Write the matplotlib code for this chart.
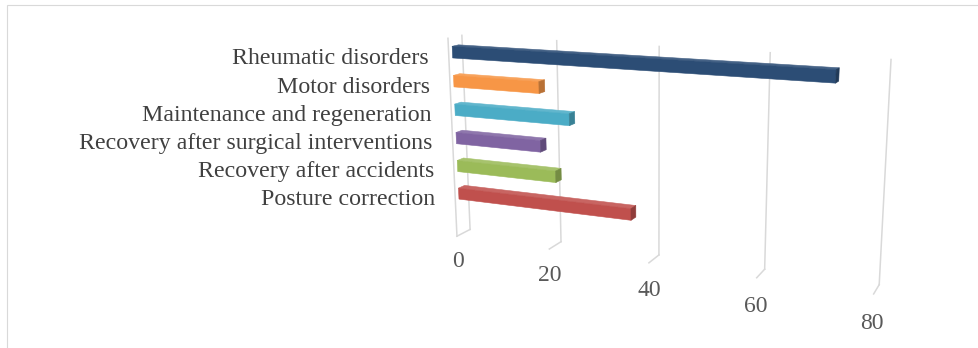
import numpy as np
import matplotlib
matplotlib.use("Agg")
import matplotlib.pyplot as plt
from matplotlib.colors import to_rgba
from matplotlib.patches import Rectangle

# Categorías de abajo hacia arriba (la primera posición del eje queda vacía)
categorias = [
    "Posture correction",
    "Recovery after accidents",
    "Recovery after surgical interventions",
    "Maintenance and regeneration",
    "Motor disorders",
    "Rheumatic disorders",
]
valores = [36, 21, 18, 24, 18, 72]
colores = ["#c0504d", "#9bbb59", "#8064a2", "#4bacc6", "#f79646", "#2c4d75"]
ticks_valor = [0, 20, 40, 60, 80]

GRIS_REJILLA = "#d9d9d9"
FUENTE = "Liberation Serif"


def aclarar(color, factor=0.2):
    """Mezcla un color RGBA con blanco"""
    r, g, b, a = color
    return (r + (1 - r) * factor, g + (1 - g) * factor, b + (1 - b) * factor, a)


def oscurecer(color, factor=0.25):
    """Oscurece un color RGBA"""
    r, g, b, a = color
    return (r * (1 - factor), g * (1 - factor), b * (1 - factor), a)


def colores_caras(lista_colores):
    """
    Devuelve los colores de las 6 caras de cada barra en el orden de bar3d:
    -z, +z, -y, +y, -x, +x. Las caras ocultas quedan transparentes.
    """
    oculto = (0, 0, 0, 0)
    caras = []
    for c in lista_colores:
        base = to_rgba(c)
        caras += [oculto, aclarar(base, 0.12), base, oculto, oculto, oscurecer(base)]
    return caras


def dibujar_rejilla(ax, n_huecos):
    """Líneas de rejilla en la pared del fondo y en el suelo"""
    for v in ticks_valor:
        ax.plot([v, v], [1, 1], [0, n_huecos], color=GRIS_REJILLA, lw=1.1)
        ax.plot([v, v], [1, 0], [0, 0], color=GRIS_REJILLA, lw=1.1)
    # borde delantero de la pared lateral
    ax.plot([0, 0], [0, 0], [0, n_huecos], color=GRIS_REJILLA, lw=1.1)


def limpiar_ejes(ax):
    """Quita marcas y textos vacíos de los ejes 3D"""
    ax.set_xticks([])
    ax.set_yticks([])
    ax.set_zticks([])
    for eje in (ax.xaxis, ax.yaxis, ax.zaxis):
        eje.label.set_visible(False)
        eje.offsetText.set_visible(False)
    for t in (ax.title, ax._left_title, ax._right_title):
        t.set_visible(False)


fig = plt.figure(figsize=(9.79, 3.48), dpi=100)
fig.patch.set_facecolor("white")

ax = fig.add_axes([0.4110, -0.1713, 0.5005, 1.4080], projection="3d")
ax.set_proj_type("persp", focal_length=0.4035)
ax.set_box_aspect((1.231, 0.072, 0.586))
ax.view_init(elev=13.6, azim=-67.4)
ax.set_axis_off()
ax.patch.set_alpha(0)

n = len(categorias)
n_huecos = n + 1
posiciones = np.arange(1, n + 1)

dibujar_rejilla(ax, n_huecos)

caras = colores_caras(colores)
ax.bar3d(np.zeros(n), np.full(n, 0.27), posiciones + 0.3,
         valores, np.full(n, 0.46), np.full(n, 0.4),
         color=caras, shade=False, edgecolors=caras, linewidth=0.4)

# Etiquetas del eje de valores, delante del suelo
for v in ticks_valor:
    ax.text(v, 0, -0.95, str(v), ha="center", va="center",
            fontsize=17, color="#595959", family=FUENTE)

# Etiquetas de categoría junto a la pared lateral
for k, nombre in zip(posiciones, categorias):
    ax.text(-4.5, 0, k + 0.27, nombre, ha="right", va="center",
            fontsize=17.2, color="#404040", family=FUENTE)

ax.set_xlim(0, 80)
ax.set_ylim(0, 1)
ax.set_zlim(0, n_huecos)
limpiar_ejes(ax)

# Marco del área del gráfico
fig.patches.append(Rectangle((7.5 / 979, -0.1), 1.2, 1.1 - 5 / 348,
                             transform=fig.transFigure, fill=False,
                             edgecolor=GRIS_REJILLA, lw=0.8))

fig.savefig("out.png", dpi=100, facecolor="white")
